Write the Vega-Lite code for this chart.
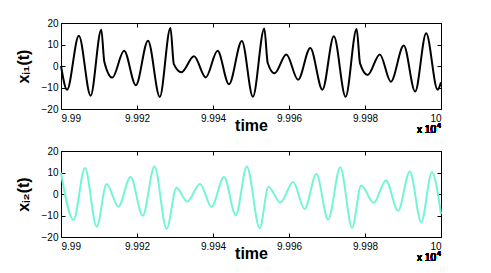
{
  "$schema": "https://vega.github.io/schema/vega-lite/v6.json",
  "padding": {"left": 14, "top": 17, "right": 0, "bottom": 0},
  "background": "white",
  "bounds": "flush",
  "spacing": 42,
  "config": {
    "view": {"stroke": "black", "strokeWidth": 1},
    "axis": {
      "grid": false,
      "domain": false,
      "tickColor": "black",
      "tickSize": -4,
      "labelFont": "Liberation Sans",
      "labelFontSize": 10,
      "labelColor": "black",
      "titleFont": "Liberation Sans",
      "titleFontSize": 16,
      "titleFontWeight": "bold",
      "titleColor": "black"
    }
  },
  "datasets": {
    "top": [
      {"t": 9.99, "v": 0.0},
      {"t": 9.99016, "v": -11.0},
      {"t": 9.99047, "v": 14.1},
      {"t": 9.99078, "v": -13.8},
      {"t": 9.99106, "v": 16.9},
      {"t": 9.99114, "v": 2.0},
      {"t": 9.99135, "v": -5.4},
      {"t": 9.99166, "v": 7.1},
      {"t": 9.99197, "v": -8.9},
      {"t": 9.99229, "v": 11.8},
      {"t": 9.9926, "v": -14.4},
      {"t": 9.99288, "v": 17.7},
      {"t": 9.99297, "v": 0.9},
      {"t": 9.99317, "v": -2.9},
      {"t": 9.9935, "v": 4.5},
      {"t": 9.99381, "v": -5.3},
      {"t": 9.99412, "v": 7.1},
      {"t": 9.99442, "v": -8.5},
      {"t": 9.99476, "v": 11.6},
      {"t": 9.99505, "v": -14.3},
      {"t": 9.99535, "v": 17.5},
      {"t": 9.99544, "v": 1.4},
      {"t": 9.99562, "v": -3.4},
      {"t": 9.99593, "v": 5.3},
      {"t": 9.99624, "v": -6.4},
      {"t": 9.99656, "v": 8.4},
      {"t": 9.99688, "v": -11.0},
      {"t": 9.99718, "v": 13.8},
      {"t": 9.99749, "v": -14.3},
      {"t": 9.99778, "v": 17.2},
      {"t": 9.99787, "v": 1.2},
      {"t": 9.99807, "v": -4.2},
      {"t": 9.99839, "v": 5.4},
      {"t": 9.99868, "v": -7.3},
      {"t": 9.99902, "v": 9.5},
      {"t": 9.99932, "v": -11.9},
      {"t": 9.99961, "v": 15.2},
      {"t": 9.99991, "v": -11.0},
      {"t": 10.0, "v": -7.6}
    ],
    "bottom": [
      {"t": 9.99, "v": 9.9},
      {"t": 9.99033, "v": -12.1},
      {"t": 9.99063, "v": 12.1},
      {"t": 9.99094, "v": -15.2},
      {"t": 9.9912, "v": 4.7},
      {"t": 9.99151, "v": -5.9},
      {"t": 9.99183, "v": 7.9},
      {"t": 9.99215, "v": -10.1},
      {"t": 9.99246, "v": 12.8},
      {"t": 9.99278, "v": -16.2},
      {"t": 9.99304, "v": 2.9},
      {"t": 9.99332, "v": -3.5},
      {"t": 9.99366, "v": 4.7},
      {"t": 9.99396, "v": -6.0},
      {"t": 9.99429, "v": 7.9},
      {"t": 9.9946, "v": -9.9},
      {"t": 9.99489, "v": 12.8},
      {"t": 9.99523, "v": -15.9},
      {"t": 9.99546, "v": 3.4},
      {"t": 9.99577, "v": -4.0},
      {"t": 9.99611, "v": 5.6},
      {"t": 9.99641, "v": -7.0},
      {"t": 9.99672, "v": 9.3},
      {"t": 9.99703, "v": -11.9},
      {"t": 9.99735, "v": 12.5},
      {"t": 9.99766, "v": -15.7},
      {"t": 9.9979, "v": 4.0},
      {"t": 9.99823, "v": -4.1},
      {"t": 9.99855, "v": 6.3},
      {"t": 9.99887, "v": -7.8},
      {"t": 9.99918, "v": 10.5},
      {"t": 9.99948, "v": -13.1},
      {"t": 9.99976, "v": 10.1},
      {"t": 10.0, "v": -9.3}
    ]
  },
  "vconcat": [
    {
      "width": 380,
      "height": 86,
      "data": {"name": "top"},
      "layer": [
        {
          "mark": {"type": "line", "interpolate": "monotone", "color": "black", "strokeWidth": 2},
          "encoding": {
            "x": {"field": "t", "type": "quantitative", "scale": {"domain": [9.99, 10], "nice": false},
              "axis": {"orient": "bottom", "values": [9.99, 9.992, 9.994, 9.996, 9.998, 10], "format": "~g", "title": "time", "labelPadding": 8, "titlePadding": -6}},
            "y": {"field": "v", "type": "quantitative", "scale": {"domain": [-20, 20], "nice": false},
              "axis": {"orient": "left", "values": [-20, -10, 0, 10, 20], "title": "xᵢ₁(t)", "labelPadding": 7, "titlePadding": 10}}
          }
        },
        {
          "mark": {"type": "line", "interpolate": "monotone", "strokeOpacity": 0},
          "encoding": {
            "x": {"field": "t", "type": "quantitative", "axis": {"orient": "top", "values": [9.99, 9.992, 9.994, 9.996, 9.998, 10], "labels": false, "title": null}},
            "y": {"field": "v", "type": "quantitative", "axis": {"orient": "right", "values": [-20, -10, 0, 10, 20], "labels": false, "title": null}}
          }
        },
        {
          "mark": {"type": "text", "text": "x 10", "align": "right", "baseline": "alphabetic", "dx": -5, "dy": 24, "font": "Liberation Sans", "fontSize": 10, "fontWeight": "normal", "color": "black"},
          "encoding": {
            "x": {"datum": 10, "type": "quantitative", "axis": null},
            "y": {"datum": -20, "type": "quantitative", "axis": null}
          }
        },
        {
          "mark": {"type": "text", "text": "4", "align": "right", "baseline": "alphabetic", "dx": 0, "dy": 19, "font": "Liberation Sans", "fontSize": 7, "fontWeight": "normal", "color": "black"},
          "encoding": {
            "x": {"datum": 10, "type": "quantitative", "axis": null},
            "y": {"datum": -20, "type": "quantitative", "axis": null}
          }
        }
      ],
      "resolve": {"axis": {"x": "independent", "y": "independent"}}
    },
    {
      "width": 380,
      "height": 86,
      "data": {"name": "bottom"},
      "layer": [
        {
          "mark": {"type": "line", "interpolate": "monotone", "color": "#72f5d6", "strokeWidth": 2},
          "encoding": {
            "x": {"field": "t", "type": "quantitative", "scale": {"domain": [9.99, 10], "nice": false},
              "axis": {"orient": "bottom", "values": [9.99, 9.992, 9.994, 9.996, 9.998, 10], "format": "~g", "title": "time", "labelPadding": 8, "titlePadding": -6}},
            "y": {"field": "v", "type": "quantitative", "scale": {"domain": [-20, 20], "nice": false},
              "axis": {"orient": "left", "values": [-20, -10, 0, 10, 20], "title": "xᵢ₂(t)", "labelPadding": 7, "titlePadding": 10}}
          }
        },
        {
          "mark": {"type": "line", "interpolate": "monotone", "strokeOpacity": 0},
          "encoding": {
            "x": {"field": "t", "type": "quantitative", "axis": {"orient": "top", "values": [9.99, 9.992, 9.994, 9.996, 9.998, 10], "labels": false, "title": null}},
            "y": {"field": "v", "type": "quantitative", "axis": {"orient": "right", "values": [-20, -10, 0, 10, 20], "labels": false, "title": null}}
          }
        },
        {
          "mark": {"type": "text", "text": "x 10", "align": "right", "baseline": "alphabetic", "dx": -5, "dy": 24, "font": "Liberation Sans", "fontSize": 10, "fontWeight": "normal", "color": "black"},
          "encoding": {
            "x": {"datum": 10, "type": "quantitative", "axis": null},
            "y": {"datum": -20, "type": "quantitative", "axis": null}
          }
        },
        {
          "mark": {"type": "text", "text": "4", "align": "right", "baseline": "alphabetic", "dx": 0, "dy": 19, "font": "Liberation Sans", "fontSize": 7, "fontWeight": "normal", "color": "black"},
          "encoding": {
            "x": {"datum": 10, "type": "quantitative", "axis": null},
            "y": {"datum": -20, "type": "quantitative", "axis": null}
          }
        }
      ],
      "resolve": {"axis": {"x": "independent", "y": "independent"}}
    }
  ]
}
